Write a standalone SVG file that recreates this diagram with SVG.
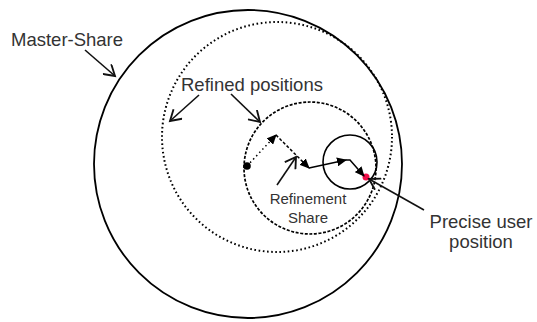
<svg xmlns="http://www.w3.org/2000/svg" width="537" height="322" viewBox="0 0 537 322">
<style>
.lbl{font-family:"Liberation Sans",Arial,sans-serif;fill:#333;}
.big{font-size:18.5px;}
.sm{font-size:15px;}
.c{fill:none;stroke:#000;}
.ptr{fill:none;stroke:#111;stroke-width:1.6;marker-end:url(#open);}
.step{fill:none;stroke:#000;stroke-width:1.5;marker-end:url(#fill);}
</style>
<defs>
<marker id="open" markerUnits="userSpaceOnUse" markerWidth="14" markerHeight="14" refX="10" refY="6" orient="auto" viewBox="0 0 12 12">
<path d="M1,0.5 L10,6 L1,11.5" fill="none" stroke="#111" stroke-width="1.6"/>
</marker>
<marker id="fill" markerUnits="userSpaceOnUse" markerWidth="10" markerHeight="9" refX="9" refY="4.5" orient="auto" viewBox="0 0 10 9">
<path d="M0,0 L10,4.5 L0,9 Z" fill="#000"/>
</marker>
</defs>
<g id="master-share"><circle class="c" cx="248" cy="164" r="154" stroke-width="1.8"/></g>
<g id="refined-outer"><circle class="c" cx="277" cy="137" r="115" stroke-width="2" stroke-dasharray="1.6 2.6"/></g>
<g id="refinement-share"><circle class="c" cx="310" cy="168" r="66" stroke-width="1.7" stroke-dasharray="3 1.6"/></g>
<g id="precise-circle"><circle class="c" cx="350" cy="162" r="27" stroke-width="1.6"/></g>
<g id="start"><circle cx="247" cy="166" r="3.8" fill="#000"/></g>
<g id="user-position"><circle cx="366" cy="177" r="3.5" fill="#f0104a"/></g>
<g id="connectors">
<path class="step" d="M247,166 L276,135" stroke-dasharray="1.5 3"/>
<path class="step" d="M276,135 L309,168" stroke-dasharray="3 2"/>
<path class="step" d="M309,168 L346,160"/>
<path class="step" d="M346,160 L350,160 L364,176"/>
<path class="ptr" d="M85,50 L115,76"/>
<path class="ptr" d="M199,95 L170,121"/>
<path class="ptr" d="M231,94 L260,122"/>
<path class="ptr" d="M277,185 L296,157"/>
<path class="ptr" d="M424,210 L369,179"/>
</g>
<g id="labels">
<text class="lbl big" x="11" y="46">Master-Share</text>
<text class="lbl big" x="181" y="91">Refined positions</text>
<text class="lbl sm" x="308" y="204" text-anchor="middle">Refinement</text>
<text class="lbl sm" x="308" y="223" text-anchor="middle">Share</text>
<text class="lbl big" x="481" y="228" text-anchor="middle">Precise user</text>
<text class="lbl big" x="481" y="248" text-anchor="middle">position</text>
</g>
</svg>
